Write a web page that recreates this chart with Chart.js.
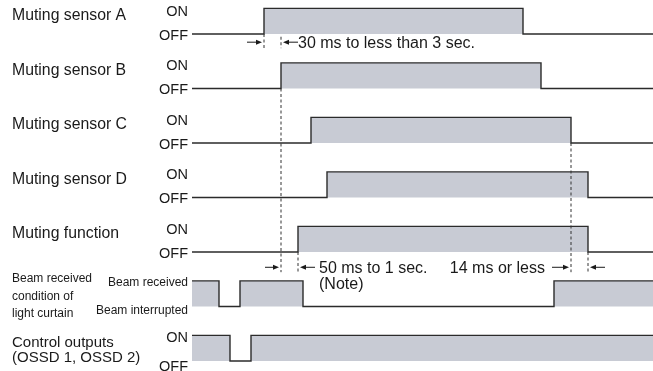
<!DOCTYPE html>
<html>
<head>
<meta charset="utf-8">
<script src="https://cdn.jsdelivr.net/npm/chart.js@4.4.0/dist/chart.umd.min.js"></script>
<style>
  html, body { margin: 0; padding: 0; background: #fff; }
  #wrap { width: 653px; height: 371px; }
</style>
</head>
<body>
<div id="wrap"><canvas id="timing"></canvas></div>
<script>
// time along the trace (arbitrary units, 0 = where the traces start)
const rowNames = ['Muting sensor A', 'Muting sensor B', 'Muting sensor C', 'Muting sensor D', 'Muting function']

const sensorATimes = [0, 72, 331, 461]
const sensorALevels = [0, 1, 0, 0]
const sensorBTimes = [0, 89, 349, 461]
const sensorBLevels = [0, 1, 0, 0]
const sensorCTimes = [0, 119, 379, 461]
const sensorCLevels = [0, 1, 0, 0]
const sensorDTimes = [0, 135, 396, 461]
const sensorDLevels = [0, 1, 0, 0]
const mutingTimes = [0, 106, 396, 461]
const mutingLevels = [0, 1, 0, 0]
const beamTimes = [0, 27, 48, 111, 362, 461]
const beamLevels = [1, 0, 1, 0, 1, 1]
const outputTimes = [0, 38, 59, 461]
const outputLevels = [1, 0, 1, 1]

const AMP = 0.47          // height of the ON level, in row units
const FILL = 'rgb(200, 203, 212)'
const LINE = '#2b2b2b'
const FONT = '"Liberation Sans", Arial, sans-serif'

// one stepped trace per row, filled down to its OFF level
function trace(row, times, levels) {
  return {
    data: times.map((t, k) => ({ x: t, y: row - levels[k] * AMP })),
    stepped: true,
    fill: { value: row },
    backgroundColor: FILL,
    borderColor: LINE,
    borderWidth: 1.4,
    pointRadius: 0,
    order: 1
  }
}

// dashed guide between two row positions at a given time
function guide(t, yFrom, yTo) {
  return {
    data: [{ x: t, y: yFrom }, { x: t, y: yTo }],
    borderColor: '#333',
    borderWidth: 1,
    borderDash: [3, 2.5],
    pointRadius: 0,
    fill: false,
    order: 0
  }
}

const arrowRow = 4.37  // bottom of the lower guides, just under "Muting function"

const datasets = [
  trace(0, sensorATimes, sensorALevels),
  trace(1, sensorBTimes, sensorBLevels),
  trace(2, sensorCTimes, sensorCLevels),
  trace(3, sensorDTimes, sensorDLevels),
  trace(4, mutingTimes, mutingLevels),
  trace(5, beamTimes, beamLevels),
  trace(6, outputTimes, outputLevels),
  guide(sensorATimes[1], 0, 0.26),
  guide(sensorBTimes[1], 0.05, 0.26),
  guide(sensorBTimes[1], 1, arrowRow),
  guide(mutingTimes[1], 4, arrowRow),
  guide(sensorCTimes[2], 2, arrowRow),
  guide(sensorDTimes[2], 4, arrowRow)
]

function arrow(ctx, xFrom, xTo, y) {
  const dir = Math.sign(xTo - xFrom)
  ctx.beginPath()
  ctx.moveTo(xFrom, y)
  ctx.lineTo(xTo - dir * 4, y)
  ctx.stroke()
  ctx.beginPath()
  ctx.moveTo(xTo, y)
  ctx.lineTo(xTo - dir * 6, y - 2.5)
  ctx.lineTo(xTo - dir * 6, y + 2.5)
  ctx.closePath()
  ctx.fill()
}

const labelsPlugin = {
  id: 'timingLabels',
  afterDraw(chart) {
    const { ctx, scales: { x, y } } = chart
    const x0 = x.getPixelForValue(0)
    const left = chart.chartArea.left + 12
    const px = t => x.getPixelForValue(t)
    const off = r => y.getPixelForValue(r)
    const on = r => y.getPixelForValue(r - AMP)

    ctx.save()
    ctx.fillStyle = '#1a1a1a'
    ctx.textBaseline = 'alphabetic'

    // muting rows
    rowNames.forEach((name, r) => {
      ctx.font = '15.8px ' + FONT
      ctx.textAlign = 'left'
      ctx.fillText(name, left, off(r) - 14)
      ctx.font = '14.5px ' + FONT
      ctx.textAlign = 'right'
      ctx.fillText('ON', x0 - 4, on(r) + 7.5)
      ctx.fillText('OFF', x0 - 4, off(r) + 5.5)
    })

    // beam row
    ctx.font = '12px ' + FONT
    ctx.textAlign = 'left'
    ctx.fillText('Beam received', left, off(5) - 25)
    ctx.fillText('condition of', left, off(5) - 7)
    ctx.fillText('light curtain', left, off(5) + 10)
    ctx.textAlign = 'right'
    ctx.fillText('Beam received', x0 - 4, on(5) + 5)
    ctx.fillText('Beam interrupted', x0 - 4, off(5) + 7)

    // control outputs row
    ctx.font = '15px ' + FONT
    ctx.textAlign = 'left'
    ctx.fillText('Control outputs', left, off(6) - 14.5)
    ctx.fillText('(OSSD 1, OSSD 2)', left, off(6) + 1)
    ctx.font = '14.5px ' + FONT
    ctx.textAlign = 'right'
    ctx.fillText('ON', x0 - 4, on(6) + 7)
    ctx.fillText('OFF', x0 - 4, off(6) + 9.5)

    // interval annotations
    ctx.strokeStyle = '#1a1a1a'
    ctx.lineWidth = 1
    const yTop = y.getPixelForValue(0.15)
    const yLow = y.getPixelForValue(4.28)
    arrow(ctx, px(sensorATimes[1]) - 17, px(sensorATimes[1]) - 2, yTop)
    arrow(ctx, px(sensorBTimes[1]) + 17, px(sensorBTimes[1]) + 2, yTop)
    arrow(ctx, px(sensorBTimes[1]) - 16, px(sensorBTimes[1]) - 2, yLow)
    arrow(ctx, px(mutingTimes[1]) + 17, px(mutingTimes[1]) + 2, yLow)
    arrow(ctx, px(sensorCTimes[2]) - 19, px(sensorCTimes[2]) - 2, yLow)
    arrow(ctx, px(sensorDTimes[2]) + 17, px(sensorDTimes[2]) + 2, yLow)

    ctx.font = '16px ' + FONT
    ctx.textAlign = 'left'
    ctx.fillText('30 ms to less than 3 sec.', px(sensorBTimes[1]) + 17, yTop + 5.5)
    ctx.fillText('50 ms to 1 sec.', px(mutingTimes[1]) + 21, yLow + 5.5)
    ctx.fillText('(Note)', px(mutingTimes[1]) + 21, yLow + 22)
    ctx.textAlign = 'right'
    ctx.fillText('14 ms or less', px(sensorCTimes[2]) - 26, yLow + 5.5)
    ctx.restore()
  }
}

new Chart(document.getElementById('timing'), {
  type: 'line',
  data: { datasets },
  options: {
    responsive: true,
    maintainAspectRatio: false,
    animation: false,
    layout: { padding: 0 },
    plugins: { legend: { display: false }, tooltip: { enabled: false } },
    scales: {
      x: { type: 'linear', display: false, min: -192, max: 461 },
      y: { type: 'linear', display: false, reverse: true, min: -0.624, max: 6.183 }
    }
  },
  plugins: [labelsPlugin]
})
</script>
</body>
</html>
